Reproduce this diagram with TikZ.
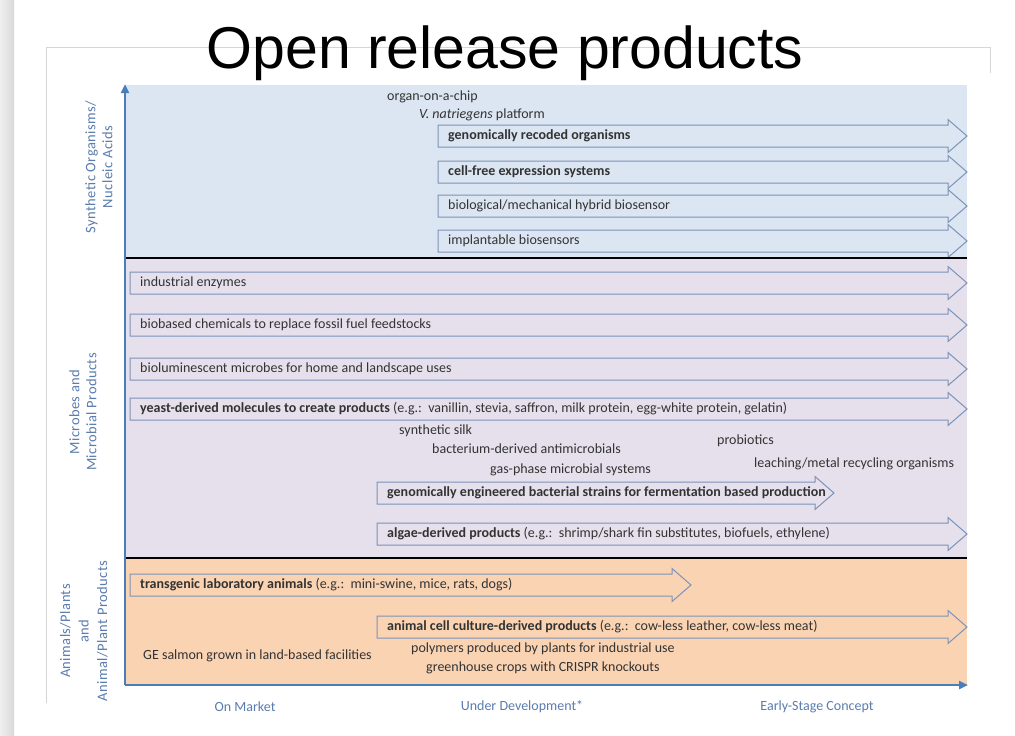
\documentclass[tikz,border=0pt]{standalone}
\usepackage{fontspec}
\setmainfont{Carlito}
\newfontfamily\arialf{Liberation Sans}
\newfontfamily\spacedf[LetterSpace=3]{Carlito}
\usetikzlibrary{arrows.meta}
\definecolor{regblue}{HTML}{DCE6F2}
\definecolor{reglav}{HTML}{E5E0EC}
\definecolor{regorg}{HTML}{FAD3B3}
\definecolor{axblue}{HTML}{4A7EBB}
\definecolor{arrline}{HTML}{7C93B8}
\definecolor{txtgray}{HTML}{333333}
\definecolor{lblblue}{HTML}{5B7CAE}
\definecolor{framegray}{HTML}{D6D6D6}
\tikzset{
  arrowshape/.style={draw=arrline, line width=1pt, line join=miter},
  itemtext/.style={font=\fontsize{14}{16}\selectfont, text=txtgray, inner sep=0pt, anchor=west},
  freetext/.style={font=\fontsize{14}{16}\selectfont, text=txtgray, inner sep=0pt, anchor=west},
  axislabel/.style={font=\fontsize{14}{16}\selectfont, text=lblblue, inner sep=0pt},
  ylabel/.style={font=\spacedf\fontsize{14.5}{17}\selectfont, text=lblblue, inner sep=0pt, rotate=90, align=center},
  axisline/.style={draw=axblue, line width=2.6pt, -{Triangle[length=9pt,width=8pt]}},
  sepline/.style={draw=black, line width=2.8pt},
}
\newcommand\blockarrow[6]{% name, x1, x2, yc, fill, text
  \draw[arrowshape, fill=#5] (#2,#4-11) -- (#3-19,#4-11) -- (#3-19,#4-16.5) -- (#3,#4) -- (#3-19,#4+16.5) -- (#3-19,#4+11) -- (#2,#4+11) -- cycle;
  \node[itemtext] (#1) at (#2+10,#4) {#6};}
\begin{document}
\begin{tikzpicture}[x=1pt,y=-1pt]
\useasboundingbox (0,0) rectangle (1015,736);
\fill[white] (0,0) rectangle (1015,736);
% slide shadow at left
\shade[left color=gray!12, right color=gray!30] (0,0) rectangle (14,736);
% frame
\draw[framegray, line width=1pt] (46,703) -- (46,47) -- (990,47) -- (990,73);
% title
\node[font=\arialf\fontsize{59}{62}\selectfont, anchor=base, inner sep=0pt] (title) at (505,68) {Open release products};
% regions
\fill[regblue] (125,85) rectangle (967,258);
\fill[reglav] (125,258) rectangle (967,558);
\fill[regorg] (125,558) rectangle (967,685);
% synthetic organisms section
\node[freetext] (organ) at (387,97) {organ-on-a-chip};
\node[freetext] (vnat) at (419,115) {\textit{V. natriegens} platform};
\blockarrow{gro}{438}{967}{136}{regblue}{\textbf{genomically recoded organisms}}
\blockarrow{cfe}{438}{967}{172}{regblue}{\textbf{cell-free expression systems}}
\blockarrow{bmh}{438}{967}{206}{regblue}{biological/mechanical hybrid biosensor}
\blockarrow{imp}{438}{967}{241}{regblue}{implantable biosensors}
% microbes section
\blockarrow{ind}{130}{967}{283}{reglav}{industrial enzymes}
\blockarrow{bio}{130}{967}{325}{reglav}{biobased chemicals to replace fossil fuel feedstocks}
\blockarrow{lum}{130}{967}{369}{reglav}{bioluminescent microbes for home and landscape uses}
\blockarrow{yeast}{130}{967}{409}{reglav}{\textbf{yeast-derived molecules to create products} (e.g.:\ \ vanillin, stevia, saffron, milk protein, egg-white protein, gelatin)}
\node[freetext] (silk) at (399,431) {synthetic silk};
\node[freetext] (bact) at (432,449) {bacterium-derived antimicrobials};
\node[freetext] (gas) at (490,470) {gas-phase microbial systems};
\node[freetext] (probio) at (717,441) {probiotics};
\node[freetext] (leach) at (754,464) {leaching/metal recycling organisms};
\blockarrow{gebs}{377}{834}{493}{reglav}{\textbf{genomically engineered bacterial strains for fermentation based production}}
\blockarrow{algae}{377}{967}{534}{reglav}{\textbf{algae-derived products} (e.g.:\ \ shrimp/shark fin substitutes, biofuels, ethylene)}
% animals section
\blockarrow{trans}{130}{691}{585}{regorg}{\textbf{transgenic laboratory animals} (e.g.:\ \ mini-swine, mice, rats, dogs)}
\blockarrow{cell}{377}{967}{627}{regorg}{\textbf{animal cell culture-derived products} (e.g.:\ \ cow-less leather, cow-less meat)}
\node[freetext] (salmon) at (143,656) {GE salmon grown in land-based facilities};
\node[freetext] (poly) at (411,649) {polymers produced by plants for industrial use};
\node[freetext] (green) at (426,668) {greenhouse crops with CRISPR knockouts};
% separators
\draw[sepline] (125,258) -- (967,258);
\draw[sepline] (125,558) -- (967,558);
% axes
\coordinate (origin) at (125,685);
\coordinate (ytop) at (125,84);
\coordinate (xend) at (968,685);
\draw[axisline] (origin) -- (ytop);
\draw[axisline] (origin) -- (xend);
% axis labels
\node[axislabel] (onmarket) at (245,707) {On Market};
\node[axislabel] (underdev) at (522,707) {Under Development*};
\node[axislabel] (early) at (817,707) {Early-Stage Concept};
\node[ylabel] (ysyn) at (99,167) {Synthetic Organisms/\\Nucleic Acids};
\node[ylabel] (ymic) at (83,412) {Microbes and\\Microbial Products};
\node[ylabel, font=\spacedf\fontsize{14.5}{18.5}\selectfont] (yani) at (84,631) {Animals/Plants\\and\\Animal/Plant Products};
\end{tikzpicture}
\end{document}
